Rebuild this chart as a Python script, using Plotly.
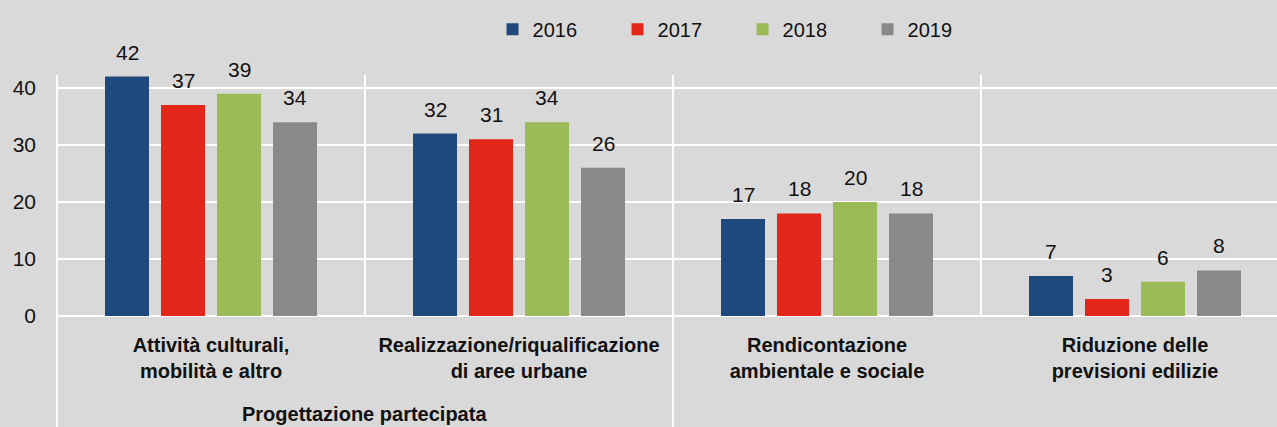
import plotly.graph_objects as go

categories = ["Attività culturali,<br>mobilità e altro",
              "Realizzazione/riqualificazione<br>di aree urbane",
              "Rendicontazione<br>ambientale e sociale",
              "Riduzione delle<br>previsioni edilizie"]
cat_keys = ["A", "B", "C", "D"]
years = ["2016", "2017", "2018", "2019"]
v2016 = [42, 32, 17, 7]
v2017 = [37, 31, 18, 3]
v2018 = [39, 34, 20, 6]
v2019 = [34, 26, 18, 8]
series = [v2016, v2017, v2018, v2019]
colors = ["#1f497d", "#e2261a", "#9bbb59", "#898989"]
y_ticks = [0, 10, 20, 30, 40]
group_label = "Progettazione partecipata"

FONT = "Liberation Sans Narrow, Arial Narrow, Liberation Sans, Arial, sans-serif"
BG = "#d9d9d9"
TXT = "#111111"

fig = go.Figure()
for name, vals, col in zip(years, series, colors):
    fig.add_trace(go.Bar(x=cat_keys, y=vals, name=name,
                         marker=dict(color=col, line=dict(width=0))))

# data labels above bars
offsets = [-84, -28, 28, 84]
annotations = []
for vals, dx in zip(series, offsets):
    for k, v in zip(cat_keys, vals):
        annotations.append(dict(x=k, y=v, xref="x", yref="y", text=str(v), showarrow=False,
                                xanchor="center", yanchor="bottom", xshift=dx, yshift=11,
                                font=dict(family=FONT, size=21, color=TXT)))

xr = [-0.5, -0.5 + 1220 / 308]
span = xr[1] - xr[0]

# group label (spans first two categories)
annotations.append(dict(x=(0.5 - xr[0]) / span, y=-0.46, xref="paper", yref="paper",
                        text="<b>" + group_label + "</b>", showarrow=False,
                        xanchor="center", yanchor="bottom",
                        font=dict(family=FONT, size=20, color=TXT)))

shapes = []
for b, ext in [(-0.5, True), (0.5, False), (1.5, True), (2.5, False)]:
    xp = (b - xr[0]) / span
    shapes.append(dict(type="line", xref="paper", yref="paper", x0=xp, x1=xp,
                       y0=-0.5 if ext else 0, y1=1, line=dict(color="white", width=2)))

fig.update_layout(
    width=1277, height=427,
    margin=dict(l=57, r=0, t=75, b=111, pad=0),
    paper_bgcolor=BG, plot_bgcolor=BG,
    barmode="group", bargap=0.2727, bargroupgap=0.2143,
    font=dict(family=FONT, size=20, color=TXT),
    legend=dict(orientation="h", x=0.357, xanchor="left", y=1.19, yanchor="middle",
                entrywidth=80, entrywidthmode="pixels", bgcolor="rgba(0,0,0,0)",
                font=dict(family=FONT, size=20, color=TXT), traceorder="normal"),
    xaxis=dict(range=xr, tickmode="array", tickvals=cat_keys,
               ticktext=["<b>" + c + "</b>" for c in categories],
               showgrid=False, zeroline=False, showline=False, ticks="",
               ticklabelstandoff=15, tickfont=dict(family=FONT, size=20, color=TXT)),
    yaxis=dict(range=[0, 241 / 5.7], tickmode="array", tickvals=y_ticks,
               showgrid=True, gridcolor="white", gridwidth=2,
               zeroline=True, zerolinecolor="white", zerolinewidth=2,
               showline=False, ticks="", ticklabelstandoff=20,
               tickfont=dict(family=FONT, size=21, color=TXT)),
    annotations=annotations,
    shapes=shapes,
)

fig.write_html("out.html", config={"displayModeBar": False})
with open("out.html", "r", encoding="utf-8") as f:
    html = f.read()
html = html.replace("<body>", '<body style="margin:0;padding:0;overflow:hidden">', 1)
with open("out.html", "w", encoding="utf-8") as f:
    f.write(html)
